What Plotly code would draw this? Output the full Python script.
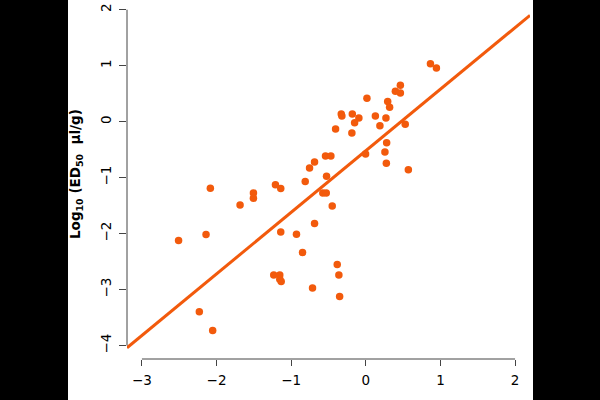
import plotly.graph_objects as go

# Scatter data
x_vals = [-2.509, -2.141, -2.083, -2.231, -2.052, -1.685, -1.506, -1.506, -1.211, -1.140,
          -1.140, -0.929, -0.848, -1.234, -1.153, -1.153, -1.134, -0.714, -0.812, -0.754,
          -0.687, -0.687, -0.576, -0.530, -0.526, -0.540, -0.468, -0.450, -0.405, -0.383,
          -0.361, -0.351, -0.329, -0.321, -0.181, -0.093, -0.150, -0.187, 0.015, -0.003,
          0.128, 0.270, 0.189, 0.293, 0.319, 0.279, 0.256, 0.275, 0.528, 0.570,
          0.396, 0.463, 0.463, 0.866, 0.946]
y_vals = [-2.125, -2.018, -1.189, -3.398, -3.732, -1.488, -1.273, -1.368, -1.125, -1.196,
          -1.970, -2.011, -2.339, -2.738, -2.738, -2.814, -2.857, -2.970, -1.071, -0.827,
          -0.720, -1.821, -1.273, -1.273, -0.975, -0.613, -0.613, -1.505, -0.130, -2.554,
          -2.738, -3.125, 0.138, 0.102, 0.138, 0.066, -0.018, -0.202, 0.418, -0.577,
          0.102, 0.066, -0.071, 0.361, 0.257, -0.375, -0.541, -0.743, -0.045, -0.857,
          0.543, 0.650, 0.513, 1.036, 0.959]

# Fitted line endpoints (at the plot edges)
line_x = [-3.2, 2.2]
line_y = [-4.04, 1.90]

x_ticks = [-3, -2, -1, 0, 1, 2]
y_ticks = [-4, -3, -2, -1, 0, 1, 2]
y_title = "Log<sub>10</sub> (ED<sub>50</sub>  µl/g)"

ORANGE = "#F25A0C"
AXIS = "#444444"
FONT = "DejaVu Sans"

# pixel layout
L, R, T, B = 127, 70, 0, 41
W, H = 600, 400
pw, ph = W - L - R, H - T - B

def px_x(p):
    return (p - L) / pw

def px_y(p):
    return (H - B - p) / ph

fig = go.Figure()
fig.add_trace(go.Scatter(x=line_x, y=line_y, mode="lines",
                         line=dict(color=ORANGE, width=3), hoverinfo="skip"))
fig.add_trace(go.Scatter(x=x_vals, y=y_vals, mode="markers",
                         marker=dict(color=ORANGE, size=7.5, line=dict(width=0))))

shapes = [
    # black side bars
    dict(type="rect", xref="paper", yref="paper", x0=px_x(-5), x1=px_x(68),
         y0=px_y(H + 5), y1=px_y(-5), fillcolor="black", line=dict(width=0), layer="below"),
    dict(type="rect", xref="paper", yref="paper", x0=px_x(533), x1=px_x(W + 5),
         y0=px_y(H + 5), y1=px_y(-5), fillcolor="black", line=dict(width=0), layer="below"),
    # axis lines spanning first to last tick
    dict(type="line", xref="x", yref="paper", x0=x_ticks[0], x1=x_ticks[-1], y0=0, y1=0,
         line=dict(color=AXIS, width=1)),
    dict(type="line", xref="paper", yref="y", x0=0, x1=0, y0=y_ticks[0], y1=y_ticks[-1],
         line=dict(color=AXIS, width=1)),
]

fig.update_layout(
    width=W, height=H,
    margin=dict(l=L, r=R, t=T, b=B, pad=0),
    paper_bgcolor="white", plot_bgcolor="white",
    showlegend=False,
    font=dict(family=FONT, size=13, color="black"),
    shapes=shapes,
    annotations=[dict(text="<b>" + y_title + "</b>", xref="paper", yref="paper",
                      x=px_x(76), y=px_y(174), textangle=-90, showarrow=False,
                      xanchor="center", yanchor="middle",
                      font=dict(family=FONT, size=13.5, color="black"))],
    xaxis=dict(range=[-3.2, 2.2], tickvals=x_ticks,
               ticktext=[str(v).replace("-", "\u2212") for v in x_ticks],
               ticks="outside", ticklen=6, tickwidth=1, tickcolor=AXIS,
               ticklabelstandoff=3,
               showgrid=False, zeroline=False, showline=False,
               tickfont=dict(family=FONT, size=13.5, color="black")),
    yaxis=dict(range=[-4.24, 121.7 / 56], tickvals=y_ticks,
               ticktext=[str(v).replace("-", "\u2212") for v in y_ticks],
               ticks="outside", ticklen=7, tickwidth=1, tickcolor=AXIS, tickangle=-90,
               ticklabelstandoff=3,
               showgrid=False, zeroline=False, showline=False,
               tickfont=dict(family=FONT, size=13.5, color="black")),
)

fig.write_html("out.html",
               config={"displayModeBar": False},
               post_script="document.body.style.margin='0';document.body.style.overflow='hidden';")
